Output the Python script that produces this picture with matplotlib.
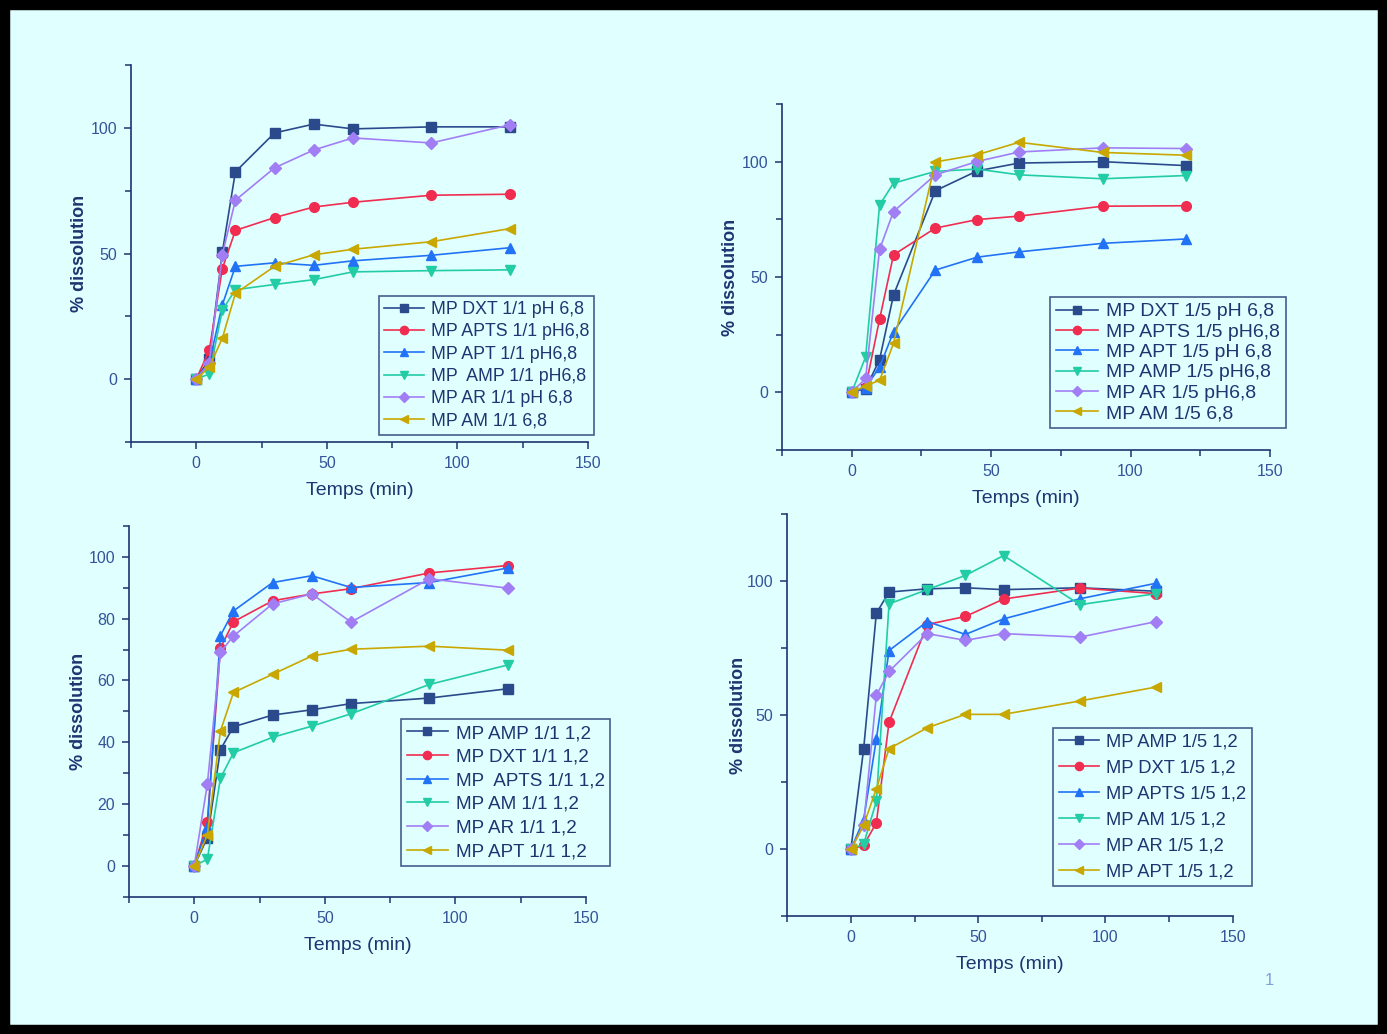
import matplotlib
matplotlib.use("Agg")
import matplotlib.pyplot as plt
from matplotlib.patches import Rectangle
from matplotlib.ticker import MultipleLocator

plt.rcParams['font.family'] = ['Liberation Sans', 'DejaVu Sans']

# sampling times (min)
t = [0, 5, 10, 15, 30, 45, 60, 90, 120]

# panel 1 : 1/1 pH 6,8
p1_labels = ["MP DXT 1/1 pH 6,8", "MP APTS 1/1 pH6,8", "MP APT 1/1 pH6,8",
             "MP  AMP 1/1 pH6,8", "MP AR 1/1 pH 6,8", "MP AM 1/1 6,8"]
p1_dxt = [0, 8, 50.5, 82.5, 98, 101.5, 99.6, 100.4, 100.4]
p1_apts = [0, 11.5, 44, 59.2, 64.3, 68.5, 70.4, 73.2, 73.6]
p1_apt = [0, 6.5, 29.6, 44.9, 46.3, 45.3, 47.1, 49.3, 52.3]
p1_amp = [0, 2.1, 27.5, 35.6, 37.7, 39.6, 42.7, 43.2, 43.5]
p1_ar = [0, 6.5, 49.6, 71.2, 84.1, 91.2, 96, 94, 101.2]
p1_am = [0, 4.8, 16.3, 34.1, 44.9, 49.5, 51.7, 54.7, 59.9]

# panel 2 : 1/5 pH 6,8
p2_labels = ["MP DXT 1/5 pH 6,8", "MP APTS 1/5 pH6,8", "MP APT 1/5 pH 6,8",
             "MP AMP 1/5 pH6,8", "MP AR 1/5 pH6,8", "MP AM 1/5 6,8"]
p2_dxt = [0, 1.6, 14.2, 42.2, 87.4, 96, 99.4, 100, 98.3]
p2_apts = [0, 2.3, 31.7, 59.6, 71.2, 74.9, 76.4, 80.7, 80.9]
p2_apt = [0, 2, 11, 26.2, 53, 58.6, 60.9, 64.6, 66.5]
p2_amp = [0, 15.4, 81.2, 90.7, 95.8, 96.8, 94.3, 92.6, 94]
p2_ar = [0, 6, 62, 78.4, 94.3, 100.1, 104.2, 106, 105.7]
p2_am = [0, 2.8, 5.2, 21.2, 99.9, 103, 108.4, 104, 102.8]

# panel 3 : 1/1 pH 1,2
p3_labels = ["MP AMP 1/1 1,2", "MP DXT 1/1 1,2", "MP  APTS 1/1 1,2",
             "MP AM 1/1 1,2", "MP AR 1/1 1,2", "MP APT 1/1 1,2"]
p3_amp = [0, 9.1, 37.6, 45, 48.8, 50.5, 52.5, 54.3, 57.3]
p3_dxt = [0, 14.2, 70.4, 79, 85.8, 88, 89.7, 94.8, 97.2]
p3_apts = [0, 12.6, 74.5, 82.5, 91.7, 93.9, 90.1, 91.7, 96.4]
p3_am = [0, 2.1, 28.3, 36.6, 41.6, 45.2, 49.2, 58.7, 65]
p3_ar = [0, 26.4, 69.1, 74.4, 84.8, 88, 78.9, 92.9, 89.9]
p3_apt = [0, 10, 43.6, 56.1, 62, 67.9, 70.1, 71.1, 69.8]

# panel 4 : 1/5 pH 1,2
p4_labels = ["MP AMP 1/5 1,2", "MP DXT 1/5 1,2", "MP APTS 1/5 1,2",
             "MP AM 1/5 1,2", "MP AR 1/5 1,2", "MP APT 1/5 1,2"]
p4_amp = [0, 37.3, 88, 95.9, 97.1, 97.5, 96.8, 97.5, 96.2]
p4_dxt = [0, 1.5, 9.8, 47.4, 83.8, 86.8, 93.3, 97.4, 95.3]
p4_apts = [0, 11, 41, 74.1, 84.9, 80.1, 85.9, 93.4, 99.2]
p4_am = [0, 1.9, 17.9, 91.5, 96.8, 102.1, 109.5, 91.2, 95.3]
p4_ar = [0, 9, 57.4, 66.3, 80.4, 77.9, 80.4, 79.1, 84.9]
p4_apt = [0, 8.9, 22.6, 37.5, 45.3, 50.3, 50.3, 55.3, 60.5]

colors = ['#2B4A8C', '#F02D50', '#2272F5', '#22CCA5', '#A27EF5', '#C8A800']
markers = ['s', 'o', '^', 'v', 'D', '<']
msizes = [6.5, 7, 7.5, 7.5, 6, 7.5]
bg = '#E0FFFF'
navy = '#1F3470'
tickcol = '#34539A'

fig = plt.figure(figsize=(13.87, 10.34), dpi=100, facecolor=bg)

panels = [
    ([0.0944, 0.5725, 0.3295, 0.3646], [p1_dxt, p1_apts, p1_apt, p1_amp, p1_ar, p1_am], p1_labels,
     (-25, 125), 50, 25, (0.543, 0.019), 12.8, 0.3, 2),
    ([0.5638, 0.5648, 0.3518, 0.3346], [p2_dxt, p2_apts, p2_apt, p2_amp, p2_ar, p2_am], p2_labels,
     (-25, 125), 50, 25, (0.549, 0.064), 14.0, 0.14, 1.5),
    ([0.0930, 0.1328, 0.3295, 0.3585], [p3_amp, p3_dxt, p3_apts, p3_am, p3_ar, p3_apt], p3_labels,
     (-10, 110), 20, 10, (0.595, 0.083), 13.6, 0.34, 1),
    ([0.5676, 0.1138, 0.3211, 0.3891], [p4_amp, p4_dxt, p4_apts, p4_am, p4_ar, p4_apt], p4_labels,
     (-25, 125), 50, 25, (0.597, 0.075), 13.2, 0.49, 0),
]

for rect, series, labels, ylim, ymaj, ymin, lpos, lfs, lsp, ypad in panels:
    ax = fig.add_axes(rect)
    ax.set_facecolor('none')
    for i in range(6):
        ax.plot(t, series[i], color=colors[i], marker=markers[i], ms=msizes[i],
                lw=1.2, label=labels[i])
    ax.set_xlim(-25, 150)
    ax.set_ylim(*ylim)
    ax.xaxis.set_major_locator(MultipleLocator(50))
    ax.xaxis.set_minor_locator(MultipleLocator(25))
    ax.yaxis.set_major_locator(MultipleLocator(ymaj))
    ax.yaxis.set_minor_locator(MultipleLocator(ymin))
    for s in ['top', 'right']:
        ax.spines[s].set_visible(False)
    for s in ['left', 'bottom']:
        ax.spines[s].set_color(navy)
        ax.spines[s].set_linewidth(1.2)
    ax.tick_params(which='major', direction='out', length=5, width=1.1, color=navy,
                   labelsize=11.5, labelcolor=tickcol, pad=5)
    ax.tick_params(which='minor', direction='out', length=4, width=1.1, color=navy)
    ax.set_xlabel('Temps (min)', fontsize=14, color=navy, labelpad=8)
    ax.set_ylabel('% dissolution', fontsize=13, color=navy, fontweight='bold', labelpad=ypad)
    leg = ax.legend(loc='lower left', bbox_to_anchor=lpos, borderaxespad=0, fontsize=lfs,
                    frameon=True, fancybox=False, facecolor='none', edgecolor=navy,
                    handlelength=2.2, handletextpad=0.4, labelspacing=lsp,
                    borderpad=0.3, labelcolor=navy, markerscale=0.85)
    leg.get_frame().set_linewidth(1.2)

fig.text(0.912, 0.047, '1', fontsize=12, color='#7F9FD8')

# black frame round the slide
fig.patches.append(Rectangle((0, 0), 1, 1, transform=fig.transFigure, fill=False,
                             edgecolor='black', linewidth=14))

fig.savefig('out.png', dpi=100, facecolor=bg)
